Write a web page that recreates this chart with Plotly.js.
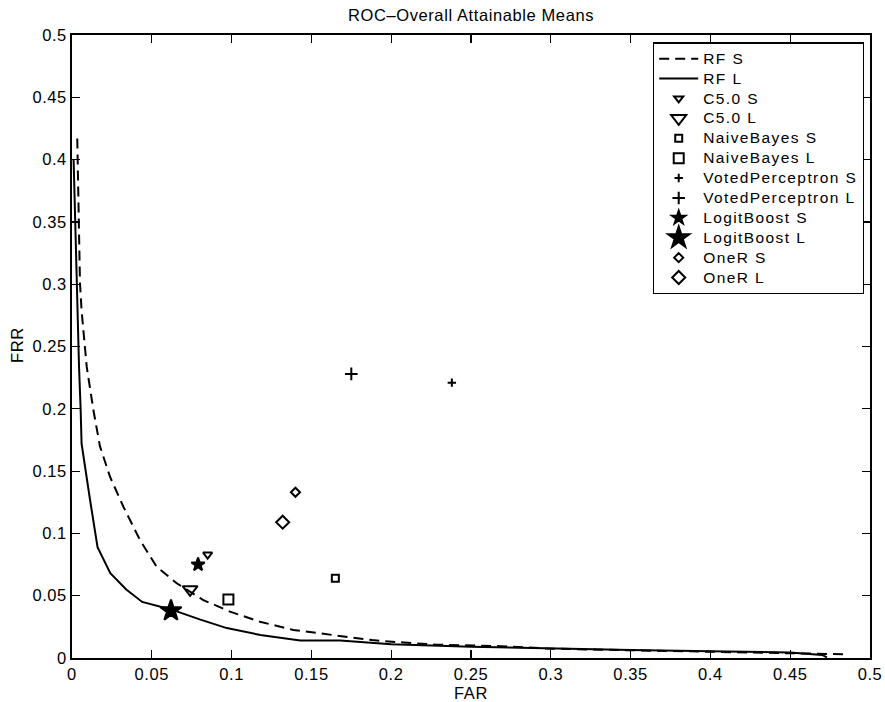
<!DOCTYPE html>
<html>
<head>
<meta charset="utf-8">
<script src="https://cdn.plot.ly/plotly-3.0.1.min.js"></script>
<style>
html,body{margin:0;padding:0;background:#fff;}
#chart{width:885px;height:702px;}
.main-svg text{letter-spacing:0.6px;}
.legendtext{font-size:15.5px !important; letter-spacing:1.4px !important;}
</style>
</head>
<body>
<div id="chart"></div>
<script>
// RF curves (FAR, FRR)
var rfS_far = [0.0033,0.004,0.005,0.006,0.0092,0.0134,0.0175,0.0238,0.0322,0.0426,0.053,0.0656,0.0823,0.099,0.1178,0.1387,0.1637,0.175,0.188,0.2034,0.2285,0.266,0.3,0.35,0.4,0.45,0.47,0.485];
var rfS_frr = [0.417,0.352,0.301,0.279,0.234,0.199,0.170,0.1455,0.1214,0.0947,0.0733,0.060,0.0465,0.0372,0.0291,0.0225,0.0185,0.0166,0.0144,0.0128,0.0107,0.0096,0.0075,0.0062,0.005,0.004,0.0035,0.003];
var rfL_far = [0.001,0.002,0.003,0.0044,0.0054,0.006,0.0113,0.016,0.024,0.034,0.044,0.062,0.080,0.097,0.118,0.143,0.168,0.2,0.25,0.3,0.35,0.4,0.45,0.47,0.473];
var rfL_frr = [0.40,0.35,0.29,0.234,0.20,0.172,0.127,0.089,0.068,0.055,0.045,0.039,0.031,0.024,0.0185,0.014,0.014,0.011,0.009,0.0075,0.0065,0.0055,0.0045,0.0025,0.0005];

// Classifier points: [FAR, FRR]
var names = ["C5.0 S","C5.0 L","NaiveBayes S","NaiveBayes L","VotedPerceptron S","VotedPerceptron L","LogitBoost S","LogitBoost L","OneR S","OneR L"];
var pointFAR = [0.085,0.074,0.165,0.098,0.238,0.175,0.079,0.062,0.140,0.132];
var pointFRR = [0.083,0.055,0.064,0.047,0.221,0.228,0.075,0.038,0.133,0.109];

var symbols = ["triangle-down-open","triangle-down-open","square-open","square-open","cross-thin-open","cross-thin-open","star","star","diamond-open","diamond-open"];
var sizes = [8,13,7,10,6,9,10,16,7,10];

var xTicks = [0,0.05,0.1,0.15,0.2,0.25,0.3,0.35,0.4,0.45,0.5];
var yTicks = [0,0.05,0.1,0.15,0.2,0.25,0.3,0.35,0.4,0.45,0.5];
var tickText = ["0","0.05","0.1","0.15","0.2","0.25","0.3","0.35","0.4","0.45","0.5"];

var traces = [
  {x: rfS_far, y: rfS_frr, mode: "lines", name: "RF S", line: {color: "#000", width: 2, dash: "10px,6px"}},
  {x: rfL_far, y: rfL_frr, mode: "lines", name: "RF L", line: {color: "#000", width: 2}}
];
for (var i = 0; i < names.length; i++) {
  traces.push({
    x: [pointFAR[i]], y: [pointFRR[i]], mode: "markers", name: names[i],
    marker: {symbol: symbols[i], size: sizes[i], color: "#000", line: {color: "#000", width: 2}}
  });
}

var font = "Liberation Sans, Arial, Helvetica, sans-serif";
var layout = {
  width: 885, height: 702,
  margin: {l: 72, r: 15, t: 35, b: 44},
  paper_bgcolor: "#fff", plot_bgcolor: "#fff",
  font: {family: font, size: 16, color: "#000"},
  title: {text: "ROC–Overall Attainable Means", x: 0.5, xref: "paper", xanchor: "center", y: 0.978, yanchor: "middle", yref: "container", font: {family: font, size: 16.5, color: "#000"}},
  xaxis: {
    range: [0, 0.5], tickvals: xTicks, ticktext: tickText,
    showgrid: false, zeroline: false, showline: true, linecolor: "#000", linewidth: 1.8,
    mirror: "ticks", ticks: "inside", ticklen: 8, tickcolor: "#000", tickwidth: 1.2,
    tickfont: {family: font, size: 16.5}
  },
  yaxis: {
    range: [0, 0.5], tickvals: yTicks, ticktext: tickText,
    showgrid: false, zeroline: false, showline: true, linecolor: "#000", linewidth: 1.8,
    mirror: "ticks", ticks: "inside", ticklen: 8, tickcolor: "#000", tickwidth: 1.2,
    tickfont: {family: font, size: 16.5}
  },
  showlegend: true,
  legend: {
    x: 0.9925, xanchor: "right", y: 0.988, yanchor: "top",
    bgcolor: "#fff", bordercolor: "#000", borderwidth: 1.2,
    font: {family: font, size: 13, color: "#000"},
    itemwidth: 39,
    tracegroupgap: 0
  },
  annotations: [
    {text: "FAR", xref: "paper", yref: "paper", x: 0.5, y: -0.056, xanchor: "center", yanchor: "middle", showarrow: false, font: {family: font, size: 16.5, color: "#000"}},
    {text: "FRR", xref: "paper", yref: "paper", x: -0.068, y: 0.502, xanchor: "center", yanchor: "middle", textangle: -90, showarrow: false, font: {family: font, size: 16.5, color: "#000"}}
  ]
};

Plotly.newPlot("chart", traces, layout, {displayModeBar: false, staticPlot: true});
</script>
</body>
</html>
